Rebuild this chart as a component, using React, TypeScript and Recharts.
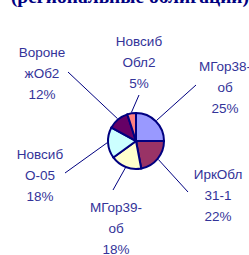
import React from 'react';
import { PieChart, Pie, Cell } from 'recharts';

// bond issues and their share of the portfolio, clockwise from 12 o'clock
const issues = ['МГор38-об', 'ИркОбл 31-1', 'МГор39-об', 'Новсиб О-05', 'ВоронежОб2', 'НовсибОбл2'];
const shares = [25, 22, 18, 18, 12, 5];
// how the label text wraps (percent goes on the third line)
const labelRows = [
  ['МГор38-', 'об'],
  ['ИркОбл', '31-1'],
  ['МГор39-', 'об'],
  ['Новсиб', 'О-05'],
  ['Вороне', 'жОб2'],
  ['Новсиб', 'Обл2'],
];
const title = '(региональные облигации)';

const sliceColors = ['#9999FF', '#993366', '#FFFFCC', '#CCFFFF', '#660066', '#FF8080'];
const ink = '#333399';
const navy = '#000080';

// label placement relative to pie centre: middle-row baseline, and where the leader line ends
const labelOffsets = [
  { dx: 89, dy: -49, lx: 60, ly: -56 },
  { dx: 82, dy: 59, lx: 52, ly: 51 },
  { dx: -20, dy: 92, lx: -23, ly: 49 },
  { dx: -96, dy: 39, lx: -71, ly: 32 },
  { dx: -94, dy: -63, lx: -68, ly: -69 },
  { dx: 3, dy: -74, lx: 3, ly: -46 },
];

const data = issues.map((name, i) => ({ name, value: shares[i] }));

const RAD = Math.PI / 180;

const renderLabel = (props: any) => {
  const { cx, cy, midAngle, outerRadius, index, percent } = props;
  const o = labelOffsets[index];
  const sx = cx + (outerRadius + 1) * Math.cos(-midAngle * RAD);
  const sy = cy + (outerRadius + 1) * Math.sin(-midAngle * RAD);
  const x = cx + o.dx;
  const y = cy + o.dy;
  const rows = [...labelRows[index], `${Math.round(percent * 100)}%`];
  return (
    <g key={`lbl-${index}`}>
      <line x1={sx} y1={sy} x2={cx + o.lx} y2={cy + o.ly} stroke={navy} strokeWidth={1} />
      <text
        x={x}
        y={y - 21}
        textAnchor="middle"
        fill={ink}
        fontFamily="Liberation Sans, Arial, sans-serif"
        fontSize={13.5}
      >
        {rows.map((r, k) => (
          <tspan key={k} x={x} dy={k === 0 ? 0 : 21}>
            {r}
          </tspan>
        ))}
      </text>
    </g>
  );
};

export default function App() {
  return (
    <div style={{ position: 'absolute', left: 0, top: 0, width: 249, height: 255, background: '#fff' }}>
      <PieChart width={249} height={255}>
        <Pie
          data={data}
          dataKey="value"
          nameKey="name"
          cx={131}
          cy={136}
          outerRadius={28}
          startAngle={90}
          endAngle={-270}
          stroke={navy}
          strokeWidth={2}
          label={renderLabel}
          labelLine={false}
          isAnimationActive={false}
        >
          {data.map((d, i) => (
            <Cell key={d.name} fill={sliceColors[i]} />
          ))}
        </Pie>
      </PieChart>
      {/* title sits mostly above the visible area, only its lower edge shows */}
      <svg width={249} height={255} style={{ position: 'absolute', left: 0, top: 0, pointerEvents: 'none' }}>
        <text
          x={130}
          y={3}
          textAnchor="middle"
          fill={navy}
          fontFamily="Liberation Serif, Times New Roman, serif"
          fontWeight="bold"
          fontSize={19.5}
        >
          {title}
        </text>
      </svg>
    </div>
  );
}
